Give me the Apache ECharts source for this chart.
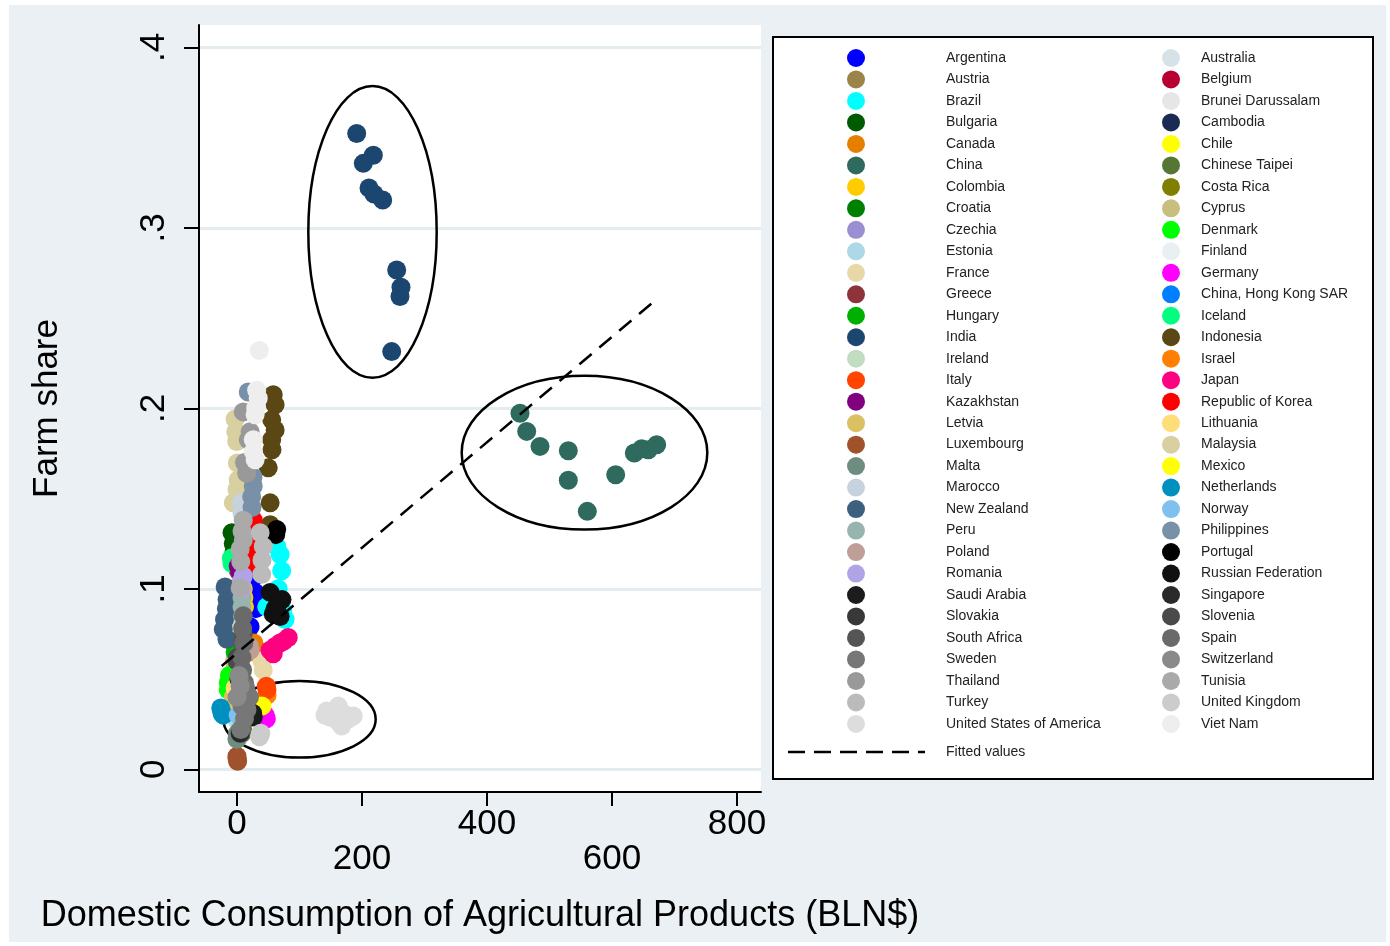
<!DOCTYPE html>
<html>
<head>
<meta charset="utf-8">
<script src="https://cdn.jsdelivr.net/npm/echarts@6/dist/echarts.min.js"></script>
<style>
  html, body { margin: 0; padding: 0; background: #fff; }
  #chart {
    width: 1390px; height: 946px;
    background: linear-gradient(#EAF0F3, #EAF0F3) no-repeat 9px 5px / 1377px 937px, #fff;
  }
</style>
</head>
<body>
<div id="chart"></div>
<script>
// Countries in plotting order (legend fills row by row, two columns)
const countries = [
  'Argentina', 'Australia', 'Austria', 'Belgium', 'Brazil', 'Brunei Darussalam',
  'Bulgaria', 'Cambodia', 'Canada', 'Chile', 'China', 'Chinese Taipei',
  'Colombia', 'Costa Rica', 'Croatia', 'Cyprus', 'Czechia', 'Denmark',
  'Estonia', 'Finland', 'France', 'Germany', 'Greece', 'China, Hong Kong SAR',
  'Hungary', 'Iceland', 'India', 'Indonesia', 'Ireland', 'Israel',
  'Italy', 'Japan', 'Kazakhstan', 'Republic of Korea', 'Letvia', 'Lithuania',
  'Luxembourg', 'Malaysia', 'Malta', 'Mexico', 'Marocco', 'Netherlands',
  'New Zealand', 'Norway', 'Peru', 'Philippines', 'Poland', 'Portugal',
  'Romania', 'Russian Federation', 'Saudi Arabia', 'Singapore', 'Slovakia', 'Slovenia',
  'South Africa', 'Spain', 'Sweden', 'Switzerland', 'Thailand', 'Tunisia',
  'Turkey', 'United Kingdom', 'United States of America', 'Viet Nam'
];

const colors = [
  '#0000FF', '#D6E2E8', '#9A8447', '#B80030', '#00FFFF', '#E6E6E6',
  '#005A00', '#1A2A55', '#E67E00', '#FFFF00', '#2E6B5E', '#557733',
  '#FFCC00', '#808000', '#008000', '#C8BE80', '#9A8FD0', '#00FF00',
  '#ADD8E6', '#EAF0F2', '#E8D8A8', '#FF00FF', '#8E3339', '#0080FF',
  '#00B000', '#00FF80', '#1B4670', '#5A4714', '#C1DCC1', '#FF8000',
  '#FF4500', '#FF0080', '#800080', '#FF0000', '#D9C060', '#FFDE7A',
  '#A0522D', '#D8D0A0', '#6E8C80', '#FFFF00', '#C6D2DE', '#0090C0',
  '#3E6080', '#80C0EE', '#98B4AE', '#7890A8', '#BE9E96', '#000000',
  '#B0A4E6', '#111111', '#1C1C1C', '#2A2A2A', '#383838', '#4A4A4A',
  '#555555', '#6A6A6A', '#777777', '#8A8A8A', '#999999', '#AAAAAA',
  '#BBBBBB', '#CCCCCC', '#DDDDDD', '#EEEEEE'
];

// Domestic consumption of agricultural products (BLN$), one list per country
const consumption = [
  [29, 21, 30, 24, 26],
  [18, 16, 20],
  [4, 5, 4],
  [6, 7, 6],
  [63.5, 69, 71.5, 47.5, 77, 73, 60, 66],
  [3, 4],
  [-8, -6, -5],
  [2, 3],
  [29, 28, 27],
  [39.5, 42, 40],
  [452.8, 463.5, 484.8, 530.1, 530.1, 560.5, 605.9, 635.7, 647.5, 658.1, 671.5],
  [8, 9],
  [10, 11, 12],
  [-5, -4],
  [-3, -2],
  [-4, -4],
  [5, 6],
  [-14, -14, -12],
  [-2, -1],
  [0, 1],
  [40, 42],
  [47, 45],
  [2, 3],
  [5],
  [-4, -3],
  [-9, -8],
  [191.5, 218.1, 202.1, 211.2, 219.2, 233.1, 255.5, 262.4, 260.8, 247.5],
  [58, 61, 55.5, 61, 55.5, 56, 50, 53, 53],
  [-5],
  [48],
  [47, 48],
  [53, 61, 69, 75, 82, 58],
  [2, 4],
  [26, 25, 21, 23],
  [-6, -5],
  [-3],
  [0, 1, 0],
  [-3, -0.5, 0.5, 2, 0, -6, -2],
  [0, 1],
  [40],
  [7.5, 8],
  [-26, -24, -22],
  [-19, -16, -17, -22, -16, -20],
  [2],
  [8, 9, 8],
  [18, 26, 23.5, 25.6, 24, 22],
  [21, 20],
  [63.5, 62],
  [10, 8, 7],
  [53, 72, 61, 69, 58, 66],
  [26, 25],
  [5],
  [3],
  [0, 1],
  [10, 9],
  [10, 9, 11, 8, 9, 12, 10],
  [5, 14, 20, 8, 12, 6, 16],
  [5, 0, 3],
  [10, 21, 18, 15.5, 12],
  [10, 10, 5, 6, 5, 8],
  [37, 42, 39.5, 40],
  [37, 36, 38],
  [143.5, 162, 186, 167.5, 149, 173, 153.6, 177.6, 161.6, 140.8],
  [35.7, 31.5, 34, 30, 29, 26, 26, 29]
];

// Farm share, aligned with the consumption lists above
const farmShare = [
  [0.098, 0.079, 0.089, 0.105, 0.094],
  [0.040, 0.035, 0.030],
  [0.050, 0.048, 0.046],
  [0.030, 0.028, 0.027],
  [0.1235, 0.119, 0.110, 0.090, 0.083, 0.088, 0.095, 0.100],
  [0.020, 0.018],
  [0.131, 0.125, 0.120],
  [0.150, 0.160],
  [0.0675, 0.065, 0.070],
  [0.037, 0.031, 0.034],
  [0.1973, 0.1872, 0.1789, 0.1765, 0.1601, 0.1429, 0.1632, 0.1752, 0.1776, 0.1770, 0.1798],
  [0.020, 0.022],
  [0.100, 0.095, 0.090],
  [0.100, 0.090],
  [0.090, 0.085],
  [0.060, 0.055],
  [0.050, 0.045],
  [0.048, 0.044, 0.052],
  [0.030, 0.028],
  [0.040, 0.038],
  [0.060, 0.055],
  [0.028, 0.030],
  [0.110, 0.100],
  [0.020],
  [0.070, 0.065],
  [0.117, 0.114],
  [0.3522, 0.3402, 0.3357, 0.3220, 0.3187, 0.3154, 0.2766, 0.2671, 0.2619, 0.2314],
  [0.2075, 0.202, 0.1936, 0.188, 0.1826, 0.177, 0.167, 0.1476, 0.1355],
  [0.080],
  [0.041],
  [0.046, 0.044],
  [0.066, 0.068, 0.070, 0.071, 0.073, 0.064],
  [0.1125, 0.110],
  [0.138, 0.130, 0.114, 0.122],
  [0.040, 0.038],
  [0.045],
  [0.0072, 0.0045, 0.006],
  [0.194, 0.1816, 0.1697, 0.1604, 0.155, 0.1476, 0.187],
  [0.0166, 0.020],
  [0.035],
  [0.1476, 0.142],
  [0.034, 0.031, 0.030],
  [0.101, 0.094, 0.089, 0.0775, 0.072, 0.083],
  [0.030],
  [0.090, 0.085, 0.095],
  [0.209, 0.157, 0.151, 0.162, 0.145, 0.170],
  [0.066, 0.068],
  [0.1328, 0.130],
  [0.107, 0.100, 0.104],
  [0.098, 0.094, 0.089, 0.0846, 0.086, 0.092],
  [0.029, 0.031],
  [0.020],
  [0.050],
  [0.060, 0.062],
  [0.075, 0.070],
  [0.085, 0.078, 0.070, 0.062, 0.055, 0.048, 0.041],
  [0.050, 0.045, 0.040, 0.035, 0.028, 0.022, 0.033],
  [0.046, 0.040, 0.052],
  [0.198, 0.187, 0.1826, 0.164, 0.170],
  [0.138, 0.127, 0.122, 0.115, 0.1005, 0.132],
  [0.131, 0.1235, 0.108, 0.116],
  [0.019, 0.018, 0.020],
  [0.0323, 0.035, 0.0295, 0.024, 0.0288, 0.0304, 0.0315, 0.0277, 0.0266, 0.0299],
  [0.232, 0.210, 0.2056, 0.200, 0.1964, 0.1826, 0.176, 0.1715]
];

// Axis ticks
const xTicks = [0, 200, 400, 600, 800];
const yTicks = [0, 0.1, 0.2, 0.3, 0.4];

// Linear fit (endpoints of the fitted values)
const fittedX = [-24.5, 673.6];
const fittedY = [0.0572, 0.2611];

// Highlight ellipses around India, China and the USA (centre and radii in data units)
const ellipseCx = [216.8, 556, 100];
const ellipseCy = [0.2977, 0.1754, 0.0277];
const ellipseRx = [102.7, 196.5, 121.9];
const ellipseRy = [0.0808, 0.0426, 0.0212];

const FONT = "'Liberation Sans', Arial, Helvetica, sans-serif";

const chart = echarts.init(document.getElementById('chart'), null, { renderer: 'canvas' });

const scatterSeries = countries.map((name, i) => ({
  name: name,
  type: 'scatter',
  symbol: 'circle',
  symbolSize: 19,
  clip: false,
  silent: true,
  itemStyle: { color: colors[i], opacity: 1 },
  data: consumption[i].map((x, j) => [x, farmShare[i][j]])
}));

const fitSeries = {
  name: 'Fitted values',
  type: 'line',
  symbol: 'none',
  silent: true,
  clip: false,
  lineStyle: { color: '#000', width: 2.5, type: [16, 10] },
  data: fittedX.map((x, i) => [x, fittedY[i]])
};

const ellipseSeries = {
  type: 'custom',
  silent: true,
  clip: false,
  encode: { x: 0, y: 1 },
  data: ellipseCx.map((cx, i) => [cx, ellipseCy[i], ellipseRx[i], ellipseRy[i]]),
  renderItem: function (params, api) {
    const c = api.coord([api.value(0), api.value(1)]);
    const s = api.size([api.value(2), api.value(3)], [api.value(0), api.value(1)]);
    return {
      type: 'ellipse',
      shape: { cx: c[0], cy: c[1], rx: s[0], ry: s[1] },
      style: { fill: 'none', stroke: '#000', lineWidth: 2.5 }
    };
  }
};

const legendBase = {
  orient: 'vertical',
  padding: 0,
  itemWidth: 18,
  itemHeight: 18,
  itemGap: 3.48,
  icon: 'circle',
  selectedMode: false,
  z: 5
};

const legendText = (indent) => ({
  fontSize: 14, color: '#222', fontFamily: FONT,
  padding: [0, 0, 0, indent]
});

const option = {
  animation: false,
  grid: {
    left: 199, top: 25, width: 562, height: 767,
    show: true, backgroundColor: '#fff', borderWidth: 0,
    outerBoundsMode: 'none'
  },
  xAxis: {
    type: 'value',
    min: -60.8, max: 838.4,
    axisLine: { show: true, onZero: false, lineStyle: { color: '#000', width: 2 } },
    axisTick: { show: true, customValues: xTicks, length: 14, lineStyle: { color: '#000', width: 2 } },
    axisLabel: {
      customValues: xTicks, margin: 15, fontSize: 35, lineHeight: 35,
      color: '#000', fontFamily: FONT,
      formatter: v => (Math.round(v / 200) % 2 ? '\n' + v : String(v))
    },
    splitLine: { show: false },
    name: 'Domestic Consumption of Agricultural Products (BLN$)',
    nameLocation: 'middle', nameGap: 106,
    nameTextStyle: { fontSize: 36, color: '#000', fontFamily: FONT }
  },
  yAxis: {
    type: 'value',
    min: -0.01258, max: 0.41235,
    axisLine: { show: true, onZero: false, lineStyle: { color: '#000', width: 2 } },
    axisTick: { show: true, customValues: yTicks, length: 15, lineStyle: { color: '#000', width: 2 } },
    axisLabel: {
      customValues: yTicks, rotate: 90, margin: 27, fontSize: 35,
      color: '#000', fontFamily: FONT,
      formatter: v => (Math.abs(v) < 1e-9 ? '0' : v.toFixed(1).replace(/^0/, ''))
    },
    splitLine: { show: true, lineStyle: { color: '#E4ECEF', width: 3 } },
    name: 'Farm share',
    nameLocation: 'middle', nameGap: 134, nameRotate: 90,
    nameTextStyle: { fontSize: 35, color: '#000', fontFamily: FONT }
  },
  legend: [
    Object.assign({}, legendBase, {
      data: countries.filter((_, i) => i % 2 === 0),
      left: 847, top: 49, textStyle: legendText(76)
    }),
    Object.assign({}, legendBase, {
      data: countries.filter((_, i) => i % 2 === 1),
      left: 1162, top: 49, textStyle: legendText(16)
    })
  ],
  graphic: [
    {
      type: 'rect', z: 1,
      shape: { x: 773, y: 37, width: 600, height: 742 },
      style: { fill: '#fff', stroke: '#000', lineWidth: 2 }
    },
    {
      type: 'line', z: 6,
      shape: { x1: 788, y1: 752, x2: 925, y2: 752 },
      style: { stroke: '#000', lineWidth: 2.5, lineDash: [17, 9] }
    },
    {
      type: 'text', z: 6, x: 946, y: 752,
      style: {
        text: 'Fitted values', fill: '#222', fontSize: 14, fontFamily: FONT,
        align: 'left', verticalAlign: 'middle'
      }
    }
  ],
  series: scatterSeries.concat([fitSeries, ellipseSeries])
};

chart.setOption(option);
</script>
</body>
</html>
